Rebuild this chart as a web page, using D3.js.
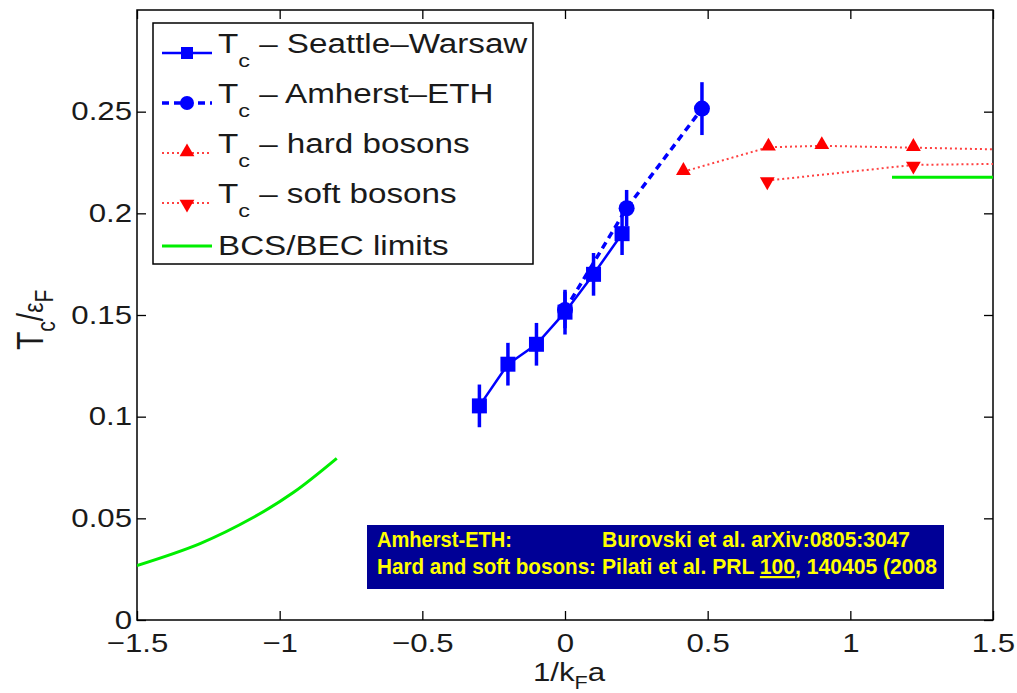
<!DOCTYPE html>
<html>
<head>
<meta charset="utf-8">
<script src="https://cdn.jsdelivr.net/npm/d3@7"></script>
<style>
  body { margin: 0; background: #fff; }
  svg { display: block; }
  text { font-family: "Liberation Sans", Arial, sans-serif; fill: #1a1a1a; }
</style>
</head>
<body>
<div id="chart"></div>
<script>
// Tc / eF vs 1/kFa

// axes ticks
var xTicks = [-1.5, -1, -0.5, 0, 0.5, 1, 1.5];
var xTickLabels = ["\u22121.5", "\u22121", "\u22120.5", "0", "0.5", "1", "1.5"];
var yTicks = [0, 0.05, 0.1, 0.15, 0.2, 0.25];
var yTickLabels = ["0", "0.05", "0.1", "0.15", "0.2", "0.25"];

// Seattle-Warsaw (squares, solid)
var swX = [-0.3, -0.2, -0.1, 0.0, 0.1, 0.2];
var swY = [0.1053, 0.1258, 0.1356, 0.1514, 0.170, 0.190];
var swErr = [0.0105, 0.0105, 0.0105, 0.011, 0.0105, 0.0105];

// Amherst-ETH (circles, dashed)
var aeX = [0.0, 0.216, 0.48];
var aeY = [0.1525, 0.2025, 0.2515];
var aeErr = [0.009, 0.009, 0.013];

// hard bosons (up triangles, dotted) - last point lies past the axis
var hbX = [0.415, 0.713, 0.90, 1.221, 2.0];
var hbY = [0.2205, 0.2325, 0.2332, 0.2323, 0.2300];

// soft bosons (down triangles, dotted)
var sbX = [0.709, 1.221, 2.0];
var sbY = [0.2161, 0.2238, 0.2252];

// BCS limit (left) and BEC limit (right)
var bcsX = [-1.5, -1.279, -1.093, -0.951, -0.80];
var bcsY = [0.0268, 0.0376, 0.0504, 0.0628, 0.0795];
var becX = [1.146, 1.5];
var becY = [0.2178, 0.2178];

var legendNames = [" \u2013 Seattle\u2013Warsaw", " \u2013 Amherst\u2013ETH", " \u2013 hard bosons", " \u2013 soft bosons", "BCS/BEC limits"];

var W = 1017, H = 693;
var SX = 1.2; // picture is stretched horizontally, text too
var blue = "#0000ff", red = "#ff0000", green = "#00ee00";

var svg = d3.select("#chart").append("svg").attr("width", W).attr("height", H);

var x = d3.scaleLinear().domain([-1.5, 1.5]).range([137, 993]);
var y = d3.scaleLinear().domain([0, 0.3]).range([620, 10]);

svg.append("clipPath").attr("id", "plotclip")
  .append("rect").attr("x", 137).attr("y", 10).attr("width", 856).attr("height", 610);

// axes, matlab style: ticks inside, on all four sides
var gx = svg.append("g").attr("transform", "translate(0,620)")
  .call(d3.axisBottom(x).tickValues(xTicks).tickSizeInner(-9).tickSizeOuter(0)
    .tickFormat(function (d, i) { return xTickLabels[i]; }));
gx.selectAll("text").attr("y", null).attr("dy", null)
  .attr("transform", "translate(0,32) scale(" + SX + ",1)")
  .attr("font-size", 26).attr("text-anchor", "middle").attr("fill", "#1a1a1a");

var gy = svg.append("g").attr("transform", "translate(137,0)")
  .call(d3.axisLeft(y).tickValues(yTicks).tickSizeInner(-9).tickSizeOuter(0)
    .tickFormat(function (d, i) { return yTickLabels[i]; }));
gy.selectAll("text").attr("x", null).attr("dy", null)
  .attr("transform", "translate(-5,8) scale(" + SX + ",1)")
  .attr("font-size", 26).attr("text-anchor", "end").attr("fill", "#1a1a1a");

svg.append("g").attr("transform", "translate(0,10)")
  .call(d3.axisTop(x).tickValues(xTicks).tickSizeInner(-9).tickSizeOuter(0).tickFormat(""));
svg.append("g").attr("transform", "translate(993,0)")
  .call(d3.axisRight(y).tickValues(yTicks).tickSizeInner(-9).tickSizeOuter(0).tickFormat(""));

svg.selectAll(".domain").remove();
svg.selectAll(".tick line").attr("stroke", "#000").attr("stroke-width", 1.3);

svg.append("rect").attr("x", 137).attr("y", 10).attr("width", 856).attr("height", 610)
  .attr("fill", "none").attr("stroke", "#000").attr("stroke-width", 1.5);

// axis labels
var xl = svg.append("text").attr("transform", "translate(533,681) scale(" + SX + ",1)")
  .attr("font-size", 26);
xl.append("tspan").text("1/k");
xl.append("tspan").attr("font-size", 18).attr("dy", 8).text("F");
xl.append("tspan").attr("dy", -8).text("a");

var yl = svg.append("text").attr("transform", "translate(43,350) scale(" + SX + ",1) rotate(-90)")
  .attr("font-size", 30);
yl.append("tspan").text("T");
yl.append("tspan").attr("font-size", 21).attr("dy", 10).text("c");
yl.append("tspan").attr("dy", -10).text("/");
yl.append("tspan").attr("font-size", 23).attr("dy", 0).text("\u03b5");
yl.append("tspan").attr("font-size", 21).attr("dy", 8).text("F");

// data layers
var plot = svg.append("g").attr("clip-path", "url(#plotclip)");

function pts(xs, ys) { return xs.map(function (v, i) { return [v, ys[i]]; }); }
var line = d3.line().x(function (d) { return x(d[0]); }).y(function (d) { return y(d[1]); });

// BCS / BEC
plot.append("path").datum(pts(bcsX, bcsY))
  .attr("d", line.curve(d3.curveCatmullRom)).attr("fill", "none")
  .attr("stroke", green).attr("stroke-width", 3);
line.curve(d3.curveLinear);
plot.append("path").datum(pts(becX, becY)).attr("d", line)
  .attr("fill", "none").attr("stroke", green).attr("stroke-width", 3);

// bosons
plot.append("path").datum(pts(hbX, hbY)).attr("d", line)
  .attr("fill", "none").attr("stroke", "#ff4040").attr("stroke-width", 2).attr("stroke-dasharray", "2,3");
plot.append("path").datum(pts(sbX, sbY)).attr("d", line)
  .attr("fill", "none").attr("stroke", "#ff4040").attr("stroke-width", 2).attr("stroke-dasharray", "2,3");

var triUp = d3.symbol().type(d3.symbolTriangle).size(95);
plot.selectAll(".hb").data(pts(hbX, hbY)).join("path")
  .attr("d", triUp).attr("fill", red)
  .attr("transform", function (d) { return "translate(" + x(d[0]) + "," + (y(d[1]) - 1) + ")"; });
plot.selectAll(".sb").data(pts(sbX, sbY)).join("path")
  .attr("d", triUp).attr("fill", red)
  .attr("transform", function (d) { return "translate(" + x(d[0]) + "," + (y(d[1]) + 1) + ") rotate(180)"; });

// Amherst-ETH
plot.append("path").datum(pts(aeX, aeY)).attr("d", line)
  .attr("fill", "none").attr("stroke", blue).attr("stroke-width", 3.5).attr("stroke-dasharray", "7,5");
plot.selectAll(".aeErr").data(pts(aeX, aeY)).join("line")
  .attr("x1", function (d) { return x(d[0]); }).attr("x2", function (d) { return x(d[0]); })
  .attr("y1", function (d, i) { return y(d[1] - aeErr[i]); })
  .attr("y2", function (d, i) { return y(d[1] + aeErr[i]); })
  .attr("stroke", blue).attr("stroke-width", 3.5);
plot.selectAll(".aeDot").data(pts(aeX, aeY)).join("circle")
  .attr("cx", function (d) { return x(d[0]); }).attr("cy", function (d) { return y(d[1]); })
  .attr("r", 8).attr("fill", blue);

// Seattle-Warsaw
plot.append("path").datum(pts(swX, swY)).attr("d", line)
  .attr("fill", "none").attr("stroke", blue).attr("stroke-width", 2.5);
plot.selectAll(".swErr").data(pts(swX, swY)).join("line")
  .attr("x1", function (d) { return x(d[0]); }).attr("x2", function (d) { return x(d[0]); })
  .attr("y1", function (d, i) { return y(d[1] - swErr[i]); })
  .attr("y2", function (d, i) { return y(d[1] + swErr[i]); })
  .attr("stroke", blue).attr("stroke-width", 3.5);
plot.selectAll(".swSq").data(pts(swX, swY)).join("rect")
  .attr("x", function (d) { return x(d[0]) - 7.5; }).attr("y", function (d) { return y(d[1]) - 7.5; })
  .attr("width", 15).attr("height", 15).attr("fill", blue);

// legend
var lg = svg.append("g");
lg.append("rect").attr("x", 153).attr("y", 23).attr("width", 380).attr("height", 241)
  .attr("fill", "#fff").attr("stroke", "#000").attr("stroke-width", 1.5);
var rowY = [53, 103, 153, 203, 246];
var lineStyles = [
  { c: blue, w: 2.5, dash: null },
  { c: blue, w: 3.5, dash: "7,5" },
  { c: "#ff4040", w: 2, dash: "2,3" },
  { c: "#ff4040", w: 2, dash: "2,3" },
  { c: green, w: 3, dash: null }
];
lineStyles.forEach(function (s, i) {
  lg.append("line").attr("x1", 162).attr("x2", 212).attr("y1", rowY[i]).attr("y2", rowY[i])
    .attr("stroke", s.c).attr("stroke-width", s.w).attr("stroke-dasharray", s.dash);
});
lg.append("rect").attr("x", 181).attr("y", rowY[0] - 6).attr("width", 12).attr("height", 12).attr("fill", blue);
lg.append("circle").attr("cx", 187).attr("cy", rowY[1]).attr("r", 7).attr("fill", blue);
lg.append("path").attr("d", triUp).attr("fill", red).attr("transform", "translate(187," + (rowY[2] - 1) + ")");
lg.append("path").attr("d", triUp).attr("fill", red).attr("transform", "translate(187," + (rowY[3] + 1) + ") rotate(180)");

legendNames.forEach(function (name, i) {
  var t = lg.append("text").attr("font-size", 27);
  if (i < 4) {
    t.attr("transform", "translate(218," + rowY[i] + ") scale(1.23,1)");
    t.append("tspan").text("T");
    t.append("tspan").attr("font-size", 19).attr("dy", 14).text("c");
    t.append("tspan").attr("dy", -14).text(name);
  } else {
    t.attr("transform", "translate(218," + (rowY[i] + 9) + ") scale(1.23,1)").text(name);
  }
});

// reference box
var nb = svg.append("g");
nb.append("rect").attr("x", 367).attr("y", 525).attr("width", 577).attr("height", 64).attr("fill", "#000096");
var noteFont = "'Liberation Sans Narrow', 'Liberation Sans', sans-serif";
function note(tx, ty, str, len) {
  return nb.append("text").attr("x", tx).attr("y", ty).attr("font-family", noteFont)
    .attr("font-weight", "bold").attr("font-size", 22).style("fill", "#ffff00")
    .attr("textLength", len).attr("lengthAdjust", "spacingAndGlyphs").text(str);
}
note(377, 547, "Amherst-ETH:", 135);
note(602, 547, "Burovski et al. arXiv:0805:3047", 308);
note(377, 574, "Hard and soft bosons:", 219);
var t2 = nb.append("text").attr("x", 602).attr("y", 574).attr("font-family", noteFont)
  .attr("font-weight", "bold").attr("font-size", 22).style("fill", "#ffff00")
  .attr("textLength", 335).attr("lengthAdjust", "spacingAndGlyphs");
t2.append("tspan").text("Pilati et al. PRL ");
t2.append("tspan").attr("text-decoration", "underline").text("100");
t2.append("tspan").text(", 140405 (2008");
</script>
</body>
</html>
